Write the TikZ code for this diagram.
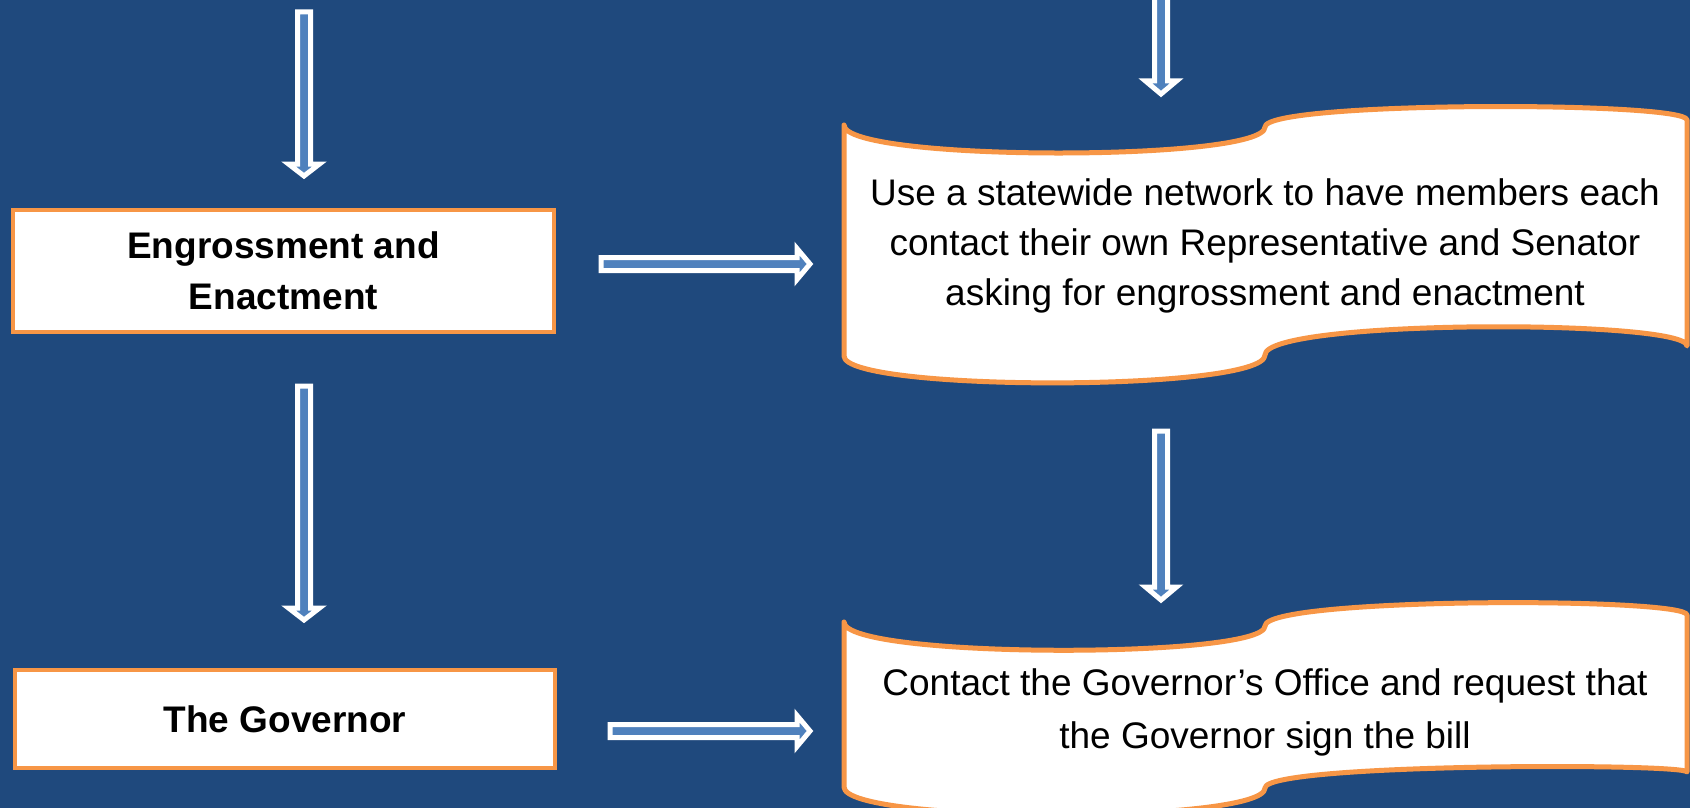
\documentclass[tikz,border=0pt]{standalone}
\usepackage{fontspec}
\setmainfont{Liberation Sans}
\definecolor{bgblue}{HTML}{1F497D}
\definecolor{edgeorange}{HTML}{F79646}
\definecolor{arrowblue}{HTML}{4F81BD}
\tikzset{
  box/.style={draw=edgeorange, line width=4pt, fill=white, align=center,
    font=\bfseries\fontsize{37}{51}\selectfont, inner sep=0pt},
  scrollshape/.style={draw=edgeorange, line width=5pt, fill=white, line join=round},
  scrolltext/.style={align=center, font=\fontsize{37}{50}\selectfont, inner sep=0pt},
  blockarrow/.style={draw=white, fill=arrowblue, line width=5pt, line join=miter}
}
\newcommand\myvarrow[4]{% x, top, base, tip
  \draw[blockarrow] ({#1-6.5},#2) -- ({#1+6.5},#2) -- ({#1+6.5},#3) -- ({#1+15.5},#3)
    -- (#1,#4) -- ({#1-15.5},#3) -- ({#1-6.5},#3) -- cycle;}
\newcommand\myharrow[4]{% y, left, base, tip
  \draw[blockarrow] (#2,{#1-6.5}) -- (#3,{#1-6.5}) -- (#3,{#1-15.5})
    -- (#4,#1) -- (#3,{#1+15.5}) -- (#3,{#1+6.5}) -- (#2,{#1+6.5}) -- cycle;}
\begin{document}
\begin{tikzpicture}[x=1pt,y=-1pt]
\useasboundingbox (0,0) rectangle (1690,808);
\fill[bgblue] (0,0) rectangle (1690,808);

% left boxes
\node[box, minimum width=541pt, minimum height=122pt] (engross) at (283.5,271) {Engrossment and\\Enactment};
\node[box, minimum width=540pt, minimum height=98pt] (governor) at (285,719) {The Governor};

% scroll 1
\draw[scrollshape] (844,125) .. controls (844,162) and (1265,162) .. (1265,127)
  .. controls (1265,101) and (1687,101) .. (1687,120)
  -- (1687,346)
  .. controls (1687,319) and (1265,319) .. (1265,355)
  .. controls (1265,392) and (844,392) .. (844,356) -- cycle;
\node[scrolltext] (network) at (1265,246) {Use a statewide network to have members each\\contact their own Representative and Senator\\asking for engrossment and enactment};

% scroll 2
\draw[scrollshape] (844,622) .. controls (844,659) and (1265,659) .. (1265,626)
  .. controls (1265,597) and (1687,597) .. (1687,615)
  -- (1687,772)
  .. controls (1687,763) and (1265,763) .. (1265,788)
  .. controls (1265,824) and (844,824) .. (844,787) -- cycle;
\node[scrolltext, font=\fontsize{37}{53}\selectfont] (office) at (1265,712) {Contact the Governor’s Office and request that\\the Governor sign the bill};

% arrows
\myvarrow{304}{12}{164}{176}
\myvarrow{304}{386}{608}{620}
\myvarrow{1161}{-5}{81}{94}
\myvarrow{1161}{431}{587}{600}
\myharrow{264}{601}{797}{810}
\myharrow{731}{610}{797}{810}
\end{tikzpicture}
\end{document}
